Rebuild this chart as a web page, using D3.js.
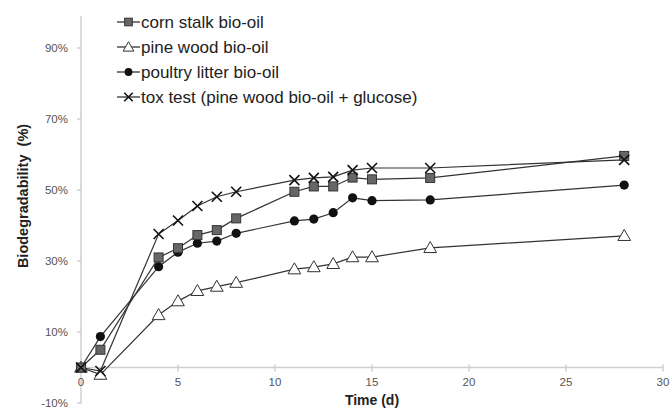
<!DOCTYPE html>
<html>
<head>
<meta charset="utf-8">
<script src="https://cdn.jsdelivr.net/npm/d3@7"></script>
<style>
  body { margin: 0; background: #fff; }
  svg text { font-family: Arial, "Liberation Sans", sans-serif; }
</style>
</head>
<body>
<div id="chart"></div>
<script>
// days of each measurement
const days = [0, 1, 4, 5, 6, 7, 8, 11, 12, 13, 14, 15, 18, 28];

// biodegradability in %
const cornStalk = [0, 5, 31, 33.6, 37.3, 38.7, 42, 49.5, 51, 51, 53.5, 53, 53.4, 59.6];
const pineWood = [0, -2, 14.8, 18.7, 21.6, 22.8, 23.9, 27.7, 28.3, 29.2, 31.1, 31.1, 33.7, 37.1];
const poultryLitter = [0, 8.7, 28.4, 32.5, 35, 35.6, 37.8, 41.3, 41.8, 43.6, 47.8, 47, 47.2, 51.4];
const toxTest = [0, -1, 37.6, 41.4, 45.5, 48.1, 49.5, 52.8, 53.4, 53.7, 55.6, 56.2, 56.2, 58.5];

const seriesNames = ["corn stalk bio-oil", "pine wood bio-oil", "poultry litter bio-oil", "tox test (pine wood bio-oil + glucose)"];
const seriesValues = [cornStalk, pineWood, poultryLitter, toxTest];
const seriesMarks = ["square", "triangle", "circle", "cross"];

const xTicks = [0, 5, 10, 15, 20, 25, 30];
const yTicks = [-10, 10, 30, 50, 70, 90];

const width = 672, height = 410;
const svg = d3.select("#chart").append("svg").attr("width", width).attr("height", height);

const x = d3.scaleLinear().domain([0, 30]).range([81, 663]);
const y = d3.scaleLinear().domain([-10, 100]).range([403, 12.5]);

// y axis (gray line, ticks crossing)
svg.append("line").attr("x1", x(0)).attr("x2", x(0)).attr("y1", y(99)).attr("y2", y(-10.3))
  .attr("stroke", "#cfcfcf").attr("stroke-width", 1.5);
yTicks.forEach(t => {
  svg.append("line").attr("x1", x(0) - 4).attr("x2", x(0)).attr("y1", y(t)).attr("y2", y(t))
    .attr("stroke", "#cfcfcf").attr("stroke-width", 1.5);
  svg.append("text").attr("x", 68).attr("y", y(t) + 4).attr("text-anchor", "end")
    .attr("font-size", 11.5).attr("fill", "#555").text(t + "%");
});

// x axis at 0%
svg.append("line").attr("x1", x(0)).attr("x2", x(30)).attr("y1", y(0)).attr("y2", y(0))
  .attr("stroke", "#cfcfcf").attr("stroke-width", 1.5);
xTicks.forEach(t => {
  svg.append("line").attr("x1", x(t)).attr("x2", x(t)).attr("y1", y(0) - 3).attr("y2", y(0) + 4)
    .attr("stroke", "#cfcfcf").attr("stroke-width", 1.5);
  svg.append("text").attr("x", x(t)).attr("y", 386).attr("text-anchor", "middle")
    .attr("font-size", 11.5).attr("fill", "#555").text(t);
});

// axis titles
svg.append("text").attr("x", 372).attr("y", 405).attr("text-anchor", "middle")
  .attr("font-size", 14).attr("font-weight", "bold").attr("fill", "#222").text("Time (d)");
svg.append("text").attr("transform", "translate(28,196) rotate(-90)").attr("text-anchor", "middle")
  .attr("font-size", 14.5).attr("font-weight", "bold").attr("fill", "#222")
  .attr("xml:space", "preserve").style("white-space", "pre").text("Biodegradability  (%)");

function drawMark(g, kind, cx, cy, s) {
  s = s || 1;
  if (kind === "square") {
    g.append("rect").attr("x", cx - 4.5 * s).attr("y", cy - 4.5 * s).attr("width", 9 * s).attr("height", 9 * s)
      .attr("fill", "#666").attr("stroke", "#333").attr("stroke-width", 1);
  } else if (kind === "triangle") {
    g.append("path").attr("d", d3.symbol().type(d3.symbolTriangle).size(70 * s * s)())
      .attr("transform", `translate(${cx},${cy + 1})`)
      .attr("fill", "#fff").attr("stroke", "#333").attr("stroke-width", 1);
  } else if (kind === "circle") {
    g.append("circle").attr("cx", cx).attr("cy", cy).attr("r", 4.6 * s).attr("fill", "#111");
  } else {
    const r = 5 * s;
    g.append("path").attr("d", `M${cx - r},${cy - r}L${cx + r},${cy + r}M${cx - r},${cy + r}L${cx + r},${cy - r}`)
      .attr("stroke", "#111").attr("stroke-width", 1.6).attr("fill", "none");
  }
}

const line = d3.line().x(d => x(d[0])).y(d => y(d[1]));

// draw in order so that black markers end up on top like the original
const drawOrder = [1, 2, 0, 3];
drawOrder.forEach(i => {
  const pts = days.map((d, j) => [d, seriesValues[i][j]]);
  svg.append("path").datum(pts).attr("d", line).attr("fill", "none")
    .attr("stroke", "#333").attr("stroke-width", 1.2);
});
drawOrder.forEach(i => {
  const g = svg.append("g");
  days.forEach((d, j) => drawMark(g, seriesMarks[i], x(d), y(seriesValues[i][j])));
});

// legend
seriesNames.forEach((name, i) => {
  const ly = 22 + i * 25;
  const g = svg.append("g");
  g.append("line").attr("x1", 117).attr("x2", 140).attr("y1", ly).attr("y2", ly)
    .attr("stroke", "#333").attr("stroke-width", 1.3);
  drawMark(g, seriesMarks[i], 128.5, ly, 0.85);
  g.append("text").attr("x", 141).attr("y", ly + 6).attr("font-size", 17).attr("fill", "#222").text(name);
});
</script>
</body>
</html>
